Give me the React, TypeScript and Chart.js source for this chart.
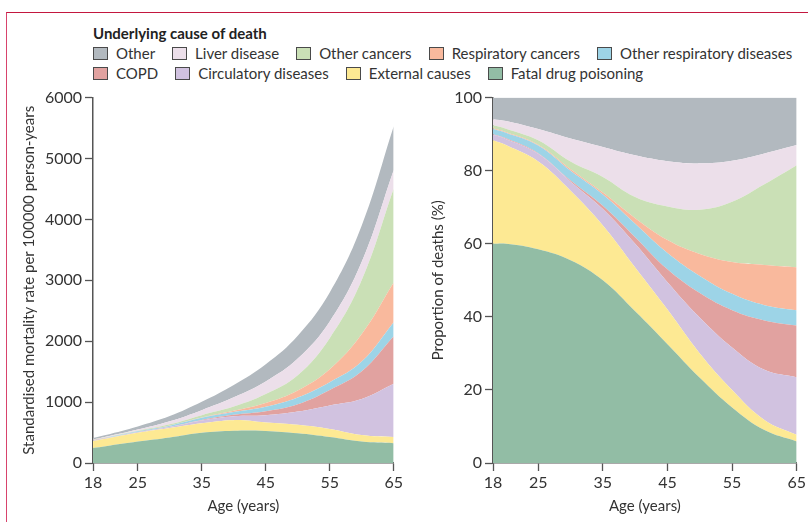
import React, { useEffect, useRef } from "react";
import { Chart, registerables } from "chart.js";

Chart.register(...registerables);

// ---------- data ----------
const ages = [18, 20, 25, 30, 35, 40, 45, 50, 55, 60, 65];
const xTickValues = [18, 25, 35, 45, 55, 65];

// Standardised mortality rate per 100000 person-years (left panel)
const rateDrug = [246, 276, 351, 420, 497, 531, 527, 487, 426, 351, 326];
const rateExternal = [116, 124, 144, 154, 156, 173, 138, 140, 134, 109, 100];
const rateCirculatory = [6, 8, 13, 19, 45, 64, 120, 217, 385, 590, 874];
const rateCopd = [1, 1, 1, 2, 9, 23, 65, 121, 255, 455, 780];
const rateOtherResp = [6, 7, 13, 18, 34, 45, 73, 109, 125, 160, 232];
const rateRespCancer = [1, 1, 1, 3, 7, 22, 63, 117, 215, 453, 653];
const rateOtherCancer = [3, 4, 7, 19, 38, 68, 146, 249, 510, 885, 1543];
const rateLiver = [7, 10, 19, 49, 82, 152, 207, 274, 274, 300, 304];
const rateOther = [24, 29, 52, 86, 136, 202, 282, 376, 476, 597, 719];

// Proportion of deaths, % (right panel)
const pctDrug = [60.0, 60.0, 58.5, 55.5, 50.0, 41.5, 32.5, 23.3, 15.2, 9.0, 5.9];
const pctExternal = [28.3, 27.0, 24.0, 19.0, 15.0, 12.0, 9.5, 6.7, 4.8, 2.8, 1.8];
const pctCirculatory = [1.5, 1.7, 2.1, 2.5, 4.5, 6.5, 7.5, 9.8, 11.6, 13.7, 15.8];
const pctCopd = [0.2, 0.2, 0.2, 0.3, 0.9, 1.8, 3.5, 6.7, 10.2, 13.5, 14.1];
const pctOtherResp = [1.4, 1.5, 2.1, 2.7, 3.1, 3.7, 4.5, 4.7, 4.5, 4.2, 4.2];
const pctRespCancer = [0.2, 0.2, 0.2, 0.4, 0.5, 1.5, 3.5, 6.0, 8.7, 11.0, 11.8];
const pctOtherCancer = [0.8, 0.9, 1.2, 2.1, 4.3, 5.8, 9.2, 12.1, 16.5, 22.1, 27.9];
const pctLiver = [1.7, 2.1, 3.1, 6.3, 8.2, 11.4, 12.4, 12.7, 11.2, 8.4, 5.5];
const pctOther = [5.9, 6.4, 8.6, 11.2, 13.5, 15.8, 17.4, 18.0, 17.3, 15.3, 13.0];

// causes, bottom of stack first
const causes = [
  { key: "drug", label: "Fatal drug poisoning", color: "#92bda5" },
  { key: "external", label: "External causes", color: "#fde993" },
  { key: "circulatory", label: "Circulatory diseases", color: "#d1c2e0" },
  { key: "copd", label: "COPD", color: "#e1a2a0" },
  { key: "otherResp", label: "Other respiratory diseases", color: "#9dd4e7" },
  { key: "respCancer", label: "Respiratory cancers", color: "#f9b99d" },
  { key: "otherCancer", label: "Other cancers", color: "#cae0b6" },
  { key: "liver", label: "Liver disease", color: "#ecdfea" },
  { key: "other", label: "Other", color: "#b2b9bf" },
];

const rateSeries = [
  rateDrug, rateExternal, rateCirculatory, rateCopd, rateOtherResp,
  rateRespCancer, rateOtherCancer, rateLiver, rateOther,
];
const pctSeries = [
  pctDrug, pctExternal, pctCirculatory, pctCopd, pctOtherResp,
  pctRespCancer, pctOtherCancer, pctLiver, pctOther,
];

const legendRow1 = ["other", "liver", "otherCancer", "respCancer", "otherResp"];
const legendRow2 = ["copd", "circulatory", "external", "drug"];

const FONT = "Lato, 'Open Sans', sans-serif";
const TEXT = "#333333";
const AXIS = "#555555";

function makeConfig(
  series: number[][],
  yMax: number,
  yStep: number,
  yTitle: string,
  yWidth: number,
  yTitlePad: number
): any {
  return {
    type: "line",
    data: {
      datasets: causes.map((c, i) => ({
        label: c.label,
        data: ages.map((a, j) => ({ x: a, y: series[i][j] })),
        backgroundColor: c.color,
        borderColor: c.color,
        borderWidth: 0,
        pointRadius: 0,
        fill: i === 0 ? "origin" : "-1",
        tension: 0.4,
      })),
    },
    options: {
      responsive: false,
      animation: false,
      events: [],
      layout: { padding: { top: 12, right: 11, left: 0, bottom: 0 } },
      plugins: { legend: { display: false }, tooltip: { enabled: false } },
      scales: {
        x: {
          type: "linear",
          min: 18,
          max: 65,
          afterBuildTicks: (scale: any) => {
            scale.ticks = xTickValues.map((v) => ({ value: v }));
          },
          afterFit: (scale: any) => {
            scale.height = 59;
          },
          grid: {
            display: true,
            drawOnChartArea: false,
            drawTicks: true,
            tickLength: 8,
            tickColor: AXIS,
            tickWidth: 1.3,
          },
          border: { display: true, color: AXIS, width: 1.5 },
          ticks: {
            color: TEXT,
            padding: 2,
            maxRotation: 0,
            font: { family: FONT, size: 16 },
            callback: (v: any) => String(v),
          },
          title: {
            display: true,
            text: "Age (years)",
            color: TEXT,
            padding: { top: 0, bottom: 7 },
            font: { family: FONT, size: 15 },
          },
        },
        y: {
          stacked: true,
          min: 0,
          max: yMax,
          afterFit: (scale: any) => {
            scale.width = yWidth;
          },
          grid: {
            display: true,
            drawOnChartArea: false,
            drawTicks: true,
            tickLength: 8,
            tickColor: AXIS,
            tickWidth: 1.3,
          },
          border: { display: true, color: AXIS, width: 1.5 },
          ticks: {
            stepSize: yStep,
            color: TEXT,
            padding: 3,
            font: { family: FONT, size: 16 },
            callback: (v: any) => String(v),
          },
          title: {
            display: true,
            text: yTitle,
            color: TEXT,
            padding: { top: yTitlePad, bottom: 0 },
            font: { family: FONT, size: 15 },
          },
        },
      },
    },
  };
}

function ChartCanvas(props: { config: any; left: number; width: number }) {
  const ref = useRef<HTMLCanvasElement | null>(null);
  useEffect(() => {
    if (!ref.current) return;
    const chart = new Chart(ref.current, props.config);
    return () => chart.destroy();
  }, []);
  return (
    <canvas
      ref={ref}
      width={props.width}
      height={437}
      style={{ position: "absolute", left: props.left, top: 85, width: props.width, height: 437 }}
    />
  );
}

function LegendRow(props: { keys: string[]; top: number }) {
  return (
    <div
      style={{
        position: "absolute",
        left: 93,
        top: props.top,
        display: "flex",
        alignItems: "center",
        gap: 17,
        whiteSpace: "nowrap",
        fontFamily: FONT,
        fontSize: 15,
        lineHeight: "18px",
        color: TEXT,
      }}
    >
      {props.keys.map((k) => {
        const c = causes.find((cc) => cc.key === k)!;
        return (
          <div key={k} style={{ display: "flex", alignItems: "center" }}>
            <span
              style={{
                display: "inline-block",
                width: 13,
                height: 11,
                background: c.color,
                border: "1px solid #4a4a4a",
                marginRight: 8,
              }}
            />
            <span>{c.label}</span>
          </div>
        );
      })}
    </div>
  );
}

export default function App() {
  const leftConfig = makeConfig(
    rateSeries, 6000, 1000,
    "Standardised mortality rate per 100000 person-years", 93, 20
  );
  const rightConfig = makeConfig(
    pctSeries, 100, 20, "Proportion of deaths (%)", 88, 24
  );
  return (
    <div
      style={{
        position: "absolute",
        left: 0,
        top: 0,
        width: 808,
        height: 522,
        background: "#ffffff",
        overflow: "hidden",
      }}
    >
      <div
        style={{
          position: "absolute",
          left: 6,
          top: 12,
          right: -2,
          bottom: -2,
          borderTop: "1px solid #c3173f",
          borderLeft: "1px solid #d8436c",
        }}
      />
      <div
        style={{
          position: "absolute",
          left: 93,
          top: 24,
          fontFamily: FONT,
          fontWeight: 700,
          fontSize: 15,
          lineHeight: "18px",
          color: "#222",
          whiteSpace: "nowrap",
        }}
      >
        Underlying cause of death
      </div>
      <LegendRow keys={legendRow1} top={44} />
      <LegendRow keys={legendRow2} top={64} />
      <ChartCanvas config={leftConfig} left={0} width={405} />
      <ChartCanvas config={rightConfig} left={405} width={403} />
    </div>
  );
}
